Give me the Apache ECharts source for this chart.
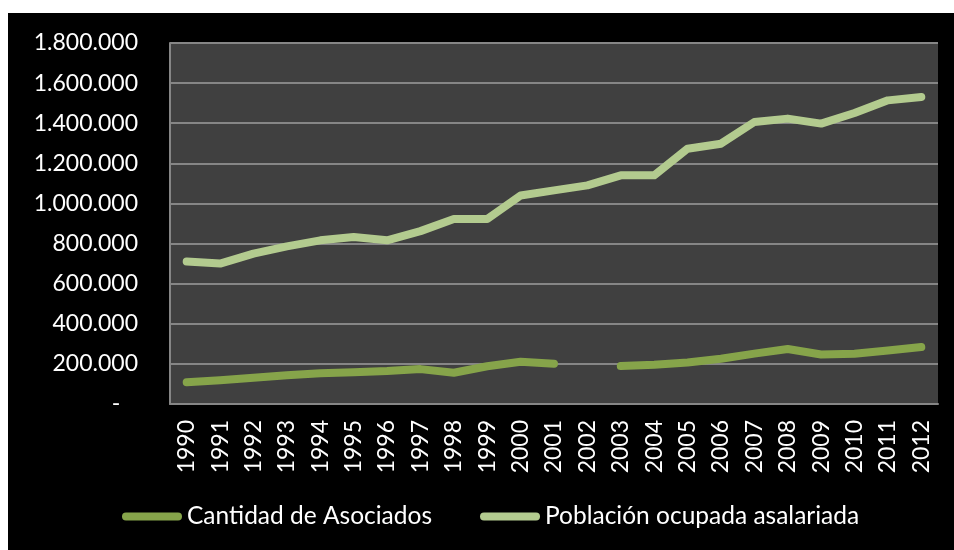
<!DOCTYPE html>
<html lang="es">
<head>
  <meta charset="UTF-8">
  <title>Asociados y población ocupada asalariada</title>
  <script src="https://cdn.jsdelivr.net/npm/echarts@6/dist/echarts.min.js"></script>
  <style>
    body {
      margin: 0;
      background: #fff;
    }

    .box {
      margin-left: 8px;
      margin-top: 13px;
      width: 946px;
      height: 537px;
    }
  </style>
</head>
<body>
<div class="box"></div>

<script>
  // años del eje X
  var years = ['1990', '1991', '1992', '1993', '1994', '1995', '1996', '1997', '1998', '1999',
    '2000', '2001', '2002', '2003', '2004', '2005', '2006', '2007', '2008', '2009',
    '2010', '2011', '2012'];

  // sin dato en 2002
  var asociados = [109000, 119000, 131000, 143000, 153000, 158000, 164000, 174000, 156000, 188000,
    211000, 201000, null, 189000, 196000, 207000, 226000, 251000, 274000, 247000,
    251000, 267000, 284000];

  var poblacion = [711000, 700000, 750000, 786000, 816000, 833000, 816000, 862000, 922000, 922000,
    1040000, 1065000, 1090000, 1140000, 1140000, 1273000, 1298000, 1406000, 1423000, 1398000,
    1451000, 1514000, 1531000];

  var seriesNames = ['Cantidad de Asociados', 'Población ocupada asalariada'];

  var fontFam = 'Lato, "Open Sans", sans-serif';
  var legendIcon = 'path://M4,0 L56,0 A4,4 0 0 1 56,8 L4,8 A4,4 0 0 1 4,0 Z';

  function fmtNum(v) {
    if (v === 0) {
      return '-   ';
    }
    return String(v).replace(/\B(?=(\d{3})+(?!\d))/g, '.');
  }

  var chart = echarts.init(document.getElementsByClassName('box')[0]);

  var option = {
    backgroundColor: '#000000',
    animation: false,
    grid: {
      left: 162,
      top: 30,
      right: 16,
      bottom: 146,
      show: true,
      backgroundColor: '#404040',
      borderWidth: 0
    },
    legend: {
      left: 109,
      top: 486,
      itemWidth: 60,
      itemHeight: 8,
      itemGap: 48,
      textStyle: {
        color: '#ffffff',
        fontFamily: fontFam,
        fontSize: 24.5
      },
      data: [
        { name: seriesNames[0], icon: legendIcon },
        { name: seriesNames[1], icon: legendIcon }
      ]
    },
    xAxis: {
      type: 'category',
      data: years,
      boundaryGap: true,
      axisLine: { lineStyle: { color: '#868686', width: 2 } },
      axisTick: { show: false },
      axisLabel: {
        rotate: 90,
        margin: 16,
        color: '#ffffff',
        fontFamily: fontFam,
        fontSize: 23
      }
    },
    yAxis: {
      type: 'value',
      min: 0,
      max: 1800000,
      interval: 200000,
      axisLine: { show: true, lineStyle: { color: '#868686', width: 2 } },
      axisTick: { show: false },
      splitLine: { lineStyle: { color: '#868686', width: 2 } },
      axisLabel: {
        margin: 32,
        color: '#ffffff',
        fontFamily: fontFam,
        fontSize: 23,
        formatter: fmtNum
      }
    },
    series: [
      {
        name: seriesNames[0],
        type: 'line',
        data: asociados,
        showSymbol: false,
        connectNulls: false,
        color: '#86a44a',
        lineStyle: { width: 8, cap: 'round', join: 'round' }
      },
      {
        name: seriesNames[1],
        type: 'line',
        data: poblacion,
        showSymbol: false,
        color: '#b3cb8f',
        lineStyle: { width: 8, cap: 'round', join: 'round' }
      }
    ]
  };

  chart.setOption(option);
</script>
</body>
</html>
